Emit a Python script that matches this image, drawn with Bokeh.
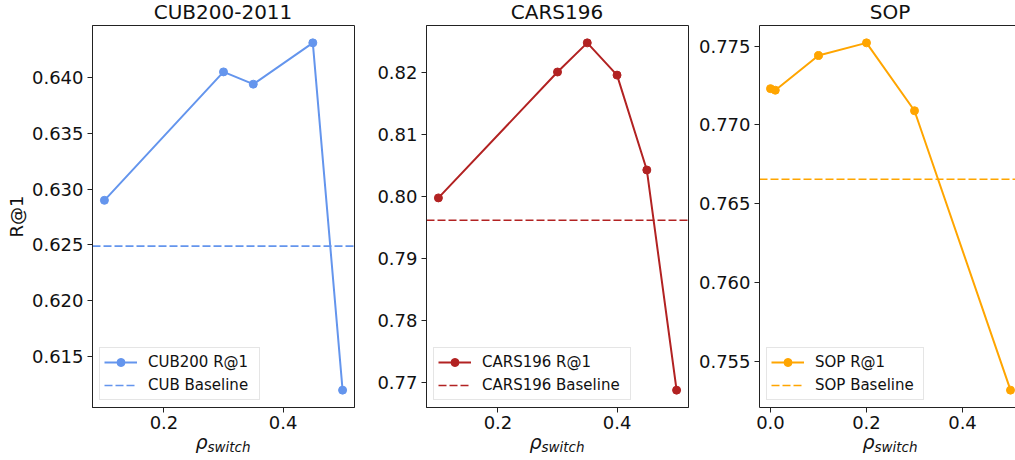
from bokeh.plotting import figure
from bokeh.layouts import row, column
from bokeh.models import (Range1d, FixedTicker, NumeralTickFormatter,
                          LinearAxis, Legend, LegendItem, Div)
from bokeh.embed import file_html
from bokeh.resources import INLINE

# ---------------- data ----------------
cub_x = [0.1, 0.3, 0.35, 0.45, 0.5]
cub_r1 = [0.629, 0.6405, 0.6394, 0.6431, 0.612]
cub_baseline = 0.6249

cars_x = [0.1, 0.3, 0.35, 0.4, 0.45, 0.5]
cars_r1 = [0.7998, 0.8201, 0.8248, 0.8196, 0.8043, 0.7688]
cars_baseline = 0.7962

sop_x = [0.0, 0.01, 0.1, 0.2, 0.3, 0.5]
sop_r1 = [0.7723, 0.7722, 0.7744, 0.7752, 0.7709, 0.7532]
sop_baseline = 0.76656

titles = ["CUB200-2011", "CARS196", "SOP"]
series_labels = ["CUB200 R@1", "CARS196 R@1", "SOP R@1"]
baseline_labels = ["CUB Baseline", "CARS196 Baseline", "SOP Baseline"]

cub_yticks = [0.615, 0.620, 0.625, 0.630, 0.635, 0.640]
cars_yticks = [0.77, 0.78, 0.79, 0.80, 0.81, 0.82]
sop_yticks = [0.755, 0.760, 0.765, 0.770, 0.775]
cub_xticks = [0.2, 0.4]
cars_xticks = [0.2, 0.4]
sop_xticks = [0.0, 0.2, 0.4]

y_label = "R@1"
x_label_main = "ρ"
x_label_sub = "switch"

# ---------------- layout ----------------
TITLE_H = 24
XLAB_H = 23
FIG_TOP = 1
FRAME_H = 382
FIG_BOTTOM = 30
FIG_H = FIG_TOP + FRAME_H + FIG_BOTTOM
FONT = "DejaVu Sans"
INK = "#222222"
TXT = "#111111"


def padded(vals, frac=0.05):
    lo, hi = min(vals), max(vals)
    d = (hi - lo) * frac
    return lo - d, hi + d


def make_panel(xs, ys, base, color, lab_r1, lab_base, xticks, yticks,
               yfmt, left, frame_w, right, xr, show_ylabel, legend_w,
               open_right=False):
    ylo, yhi = padded(ys + [base])
    p = figure(width=left + frame_w + right, height=FIG_H, x_range=xr,
               y_range=Range1d(ylo, yhi), output_backend="svg",
               toolbar_location=None, min_border_left=left,
               min_border_right=right, min_border_top=FIG_TOP,
               min_border_bottom=FIG_BOTTOM)
    p.background_fill_color = "white"
    p.border_fill_color = "white"
    p.xgrid.visible = False
    p.ygrid.visible = False
    p.outline_line_color = None if open_right else INK
    p.outline_line_width = 1

    p.xaxis.ticker = FixedTicker(ticks=xticks)
    p.yaxis.ticker = FixedTicker(ticks=yticks)
    p.xaxis.formatter = NumeralTickFormatter(format="0.0")
    p.yaxis.formatter = NumeralTickFormatter(format=yfmt)
    for ax in (p.xaxis, p.yaxis):
        ax.major_tick_out = 5
        ax.major_tick_in = 0
        ax.minor_tick_line_color = None
        ax.axis_line_color = INK
        ax.major_tick_line_color = INK
        ax.major_label_text_font = FONT
        ax.major_label_text_font_size = "18px"
        ax.major_label_text_color = TXT
    p.xaxis.major_label_standoff = 3
    p.yaxis.major_label_standoff = 4

    if show_ylabel:
        p.yaxis.axis_label = y_label
        p.yaxis.axis_label_text_font = FONT
        p.yaxis.axis_label_text_font_size = "18px"
        p.yaxis.axis_label_text_font_style = "normal"
        p.yaxis.axis_label_text_color = TXT
        p.yaxis.axis_label_standoff = 2

    if open_right:
        top = LinearAxis(ticker=FixedTicker(ticks=[]), axis_line_color=INK,
                         major_tick_line_color=None,
                         minor_tick_line_color=None)
        p.add_layout(top, "above")

    r_line = p.line(xs, ys, color=color, line_width=2)
    r_pts = p.scatter(xs, ys, color=color, size=8)
    r_base = p.line([xr.start, xr.end], [base, base], color=color,
                    line_width=1.6, line_dash="8 3")

    legend = Legend(items=[LegendItem(label=lab_r1, renderers=[r_line, r_pts]),
                           LegendItem(label=lab_base, renderers=[r_base])],
                    location="bottom_left", margin=7, padding=4, spacing=3,
                    glyph_width=33, glyph_height=20, label_height=20,
                    label_standoff=11, label_width=legend_w,
                    label_text_font=FONT, label_text_font_size="15px",
                    label_text_color=TXT,
                    border_line_color="#cccccc", border_line_width=1,
                    background_fill_color="white", background_fill_alpha=0.8)
    p.add_layout(legend)
    return p


def title_div(text, width, left):
    html = ('<div style="width:300px;margin-left:%dpx;text-align:center;'
            'font-family:\'DejaVu Sans\';font-size:20px;line-height:24px;'
            'color:%s;white-space:nowrap">%s</div>') % (left + 131 - 150, TXT, text)
    return Div(text=html, width=width, height=TITLE_H, margin=(0, 0, 0, 0))


def xlabel_div(width, left):
    html = ('<div style="width:300px;margin-left:%dpx;text-align:center;'
            'font-family:\'DejaVu Sans\';font-style:italic;font-size:19px;'
            'line-height:10px;color:%s;white-space:nowrap">'
            '<span style="font-size:19px">%s</span>'
            '<span style="font-size:13.5px;position:relative;top:3px">%s</span>'
            '</div>') % (left + 131 - 150, TXT, x_label_main, x_label_sub)
    return Div(text=html, width=width, height=XLAB_H, margin=(0, 0, 0, 0))


cub_xr = Range1d(*padded(cub_x))
cars_xr = Range1d(*padded(cars_x))
sop_xr = Range1d(-0.0229, 0.5104)

# panel geometry: (left border, frame width, right border)
g1 = (92, 262, 5)
g2 = (67, 262, 5)
g3 = (66, 256, 0)

p1 = make_panel(cub_x, cub_r1, cub_baseline, "#6495ED",
                series_labels[0], baseline_labels[0], cub_xticks, cub_yticks,
                "0.000", *g1, cub_xr, True, 107)
p2 = make_panel(cars_x, cars_r1, cars_baseline, "#B22222",
                series_labels[1], baseline_labels[1], cars_xticks, cars_yticks,
                "0.00", *g2, cars_xr, False, 144)
p3 = make_panel(sop_x, sop_r1, sop_baseline, "#FFA500",
                series_labels[2], baseline_labels[2], sop_xticks, sop_yticks,
                "0.000", *g3, sop_xr, False, 104, open_right=True)

widths = [sum(g1), sum(g2), sum(g3)]
lefts = [g1[0], g2[0], g3[0]]

top_row = row(*[title_div(t, w, l) for t, w, l in zip(titles, widths, lefts)])
bottom_row = row(*[xlabel_div(w, l) for w, l in zip(widths, lefts)])
layout = column(top_row, row(p1, p2, p3), bottom_row)

open("out.html", "w").write(file_html(layout, INLINE))
